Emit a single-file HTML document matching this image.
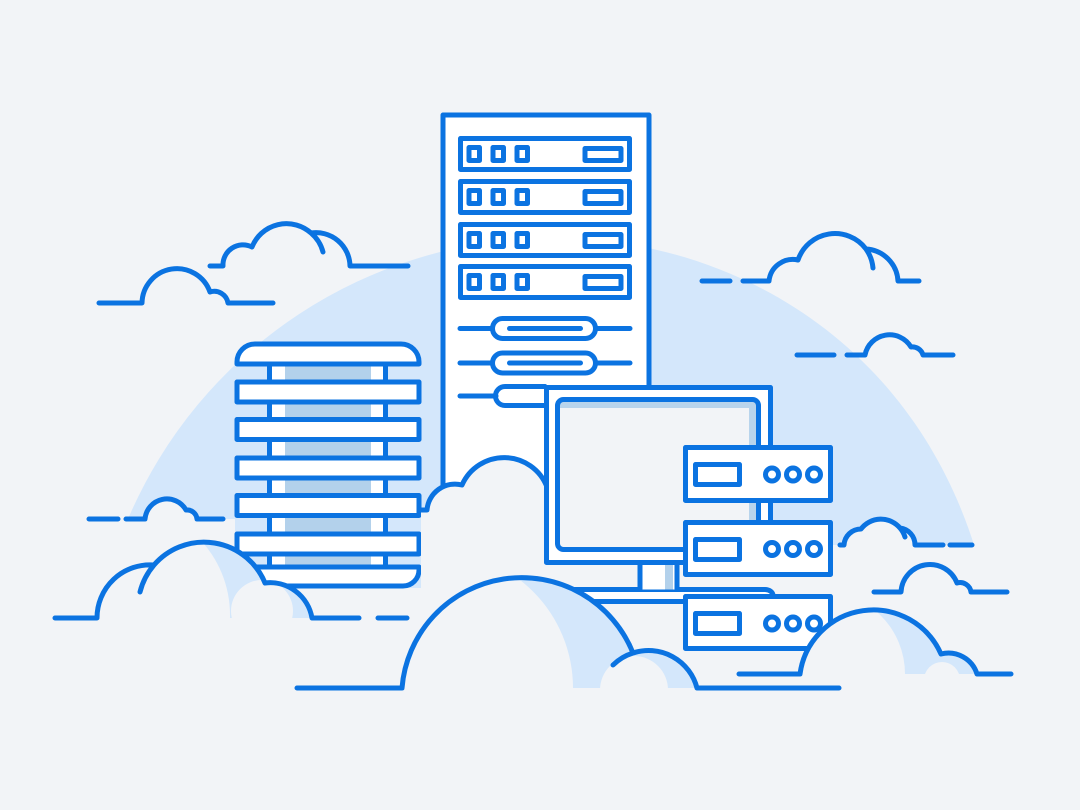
<!DOCTYPE html>
<html><head><meta charset="utf-8"><style>
html,body{margin:0;padding:0;background:#f2f4f7;}
svg{display:block;}
.s{fill:none;stroke:#0b73e1;stroke-width:5;stroke-linecap:round;stroke-linejoin:round;}
.w{fill:#fff;stroke:#0b73e1;stroke-width:5;stroke-linecap:round;stroke-linejoin:round;}
.bg{fill:#f2f4f7;}
.lb{fill:#d4e7fb;}
</style></head><body>
<svg width="1080" height="810" viewBox="0 0 1080 810" xmlns="http://www.w3.org/2000/svg">
<defs>
<clipPath id="cF"><path d="M97,618 A53,53 0 0 1 154,565 A66,66 0 0 1 265,583 A42.5,42.5 0 0 1 312,618 Z"/></clipPath>
<clipPath id="cG"><path d="M402,688 A120,120 0 0 1 633,653 A50,50 0 0 1 697,688 Z"/></clipPath>
<clipPath id="cH"><path d="M800,674 A74,74 0 0 1 941,654 A30,30 0 0 1 977,674 Z"/></clipPath>
</defs>
<rect width="1080" height="810" class="bg"/>
<!-- dome -->
<path d="M128,519 A462,462 0 0 1 553,238 C730,238 910,340 975,548 L975,640 L128,640 Z" class="lb"/>
<rect x="0" y="519" width="235" height="291" class="bg"/>
<rect x="833" y="545" width="247" height="265" class="bg"/>
<rect x="421" y="562" width="412" height="248" class="bg"/>
<rect x="235" y="588" width="186" height="222" class="bg"/>

<!-- tall rack -->
<rect x="443" y="115" width="206" height="440" class="w"/>
<g>
<rect x="460.5" y="138.5" width="169" height="31" class="w"/>
<rect x="469" y="147.5" width="10.5" height="13" class="s"/>
<rect x="493" y="147.5" width="10.5" height="13" class="s"/>
<rect x="517" y="147.5" width="10.5" height="13" class="s"/>
<rect x="585" y="148.5" width="36" height="12" class="s"/>

<rect x="460.5" y="181.5" width="169" height="31" class="w"/>
<rect x="469" y="190.5" width="10.5" height="13" class="s"/>
<rect x="493" y="190.5" width="10.5" height="13" class="s"/>
<rect x="517" y="190.5" width="10.5" height="13" class="s"/>
<rect x="585" y="191.5" width="36" height="12" class="s"/>

<rect x="460.5" y="224.5" width="169" height="31" class="w"/>
<rect x="469" y="233.5" width="10.5" height="13" class="s"/>
<rect x="493" y="233.5" width="10.5" height="13" class="s"/>
<rect x="517" y="233.5" width="10.5" height="13" class="s"/>
<rect x="585" y="234.5" width="36" height="12" class="s"/>

<rect x="460.5" y="266.5" width="169" height="31" class="w"/>
<rect x="469" y="275.5" width="10.5" height="13" class="s"/>
<rect x="493" y="275.5" width="10.5" height="13" class="s"/>
<rect x="517" y="275.5" width="10.5" height="13" class="s"/>
<rect x="585" y="276.5" width="36" height="12" class="s"/>
</g>
<line x1="460" y1="328.5" x2="630" y2="328.5" class="s"/>
<rect x="492.5" y="318.5" width="103" height="20" rx="10" class="w"/>
<line x1="509.5" y1="328.5" x2="580.5" y2="328.5" class="s"/>
<line x1="460" y1="363" x2="630" y2="363" class="s"/>
<rect x="492.5" y="353" width="103" height="20" rx="10" class="w"/>
<line x1="509.5" y1="363" x2="580.5" y2="363" class="s"/>
<line x1="460" y1="396" x2="496" y2="396" class="s"/>
<path d="M545,386.5 H505 A9.5,9.5 0 0 0 505,405.5 H545" class="s"/>

<!-- left tower -->
<rect x="269.5" y="364" width="116" height="203" fill="#fff"/>
<rect x="285" y="364" width="86" height="203" fill="#b3d1eb"/>
<line x1="269.5" y1="364" x2="269.5" y2="567" class="s"/>
<line x1="385.5" y1="364" x2="385.5" y2="567" class="s"/>
<path d="M237,364 V362 A18,18 0 0 1 255,344 H401 A18,18 0 0 1 419,362 V364 Z" class="w"/>
<rect x="237" y="382" width="182" height="20" class="w"/>
<rect x="237" y="419.5" width="182" height="20" class="w"/>
<rect x="237" y="458" width="182" height="20" class="w"/>
<rect x="237" y="495.5" width="182" height="20" class="w"/>
<rect x="237" y="534" width="182" height="20" class="w"/>
<path d="M237,567 H419 V570 A16,16 0 0 1 403,586 H253 A16,16 0 0 1 237,570 Z" class="w"/>

<!-- cloud K -->
<path d="M421,510 H427 A28,28 0 0 1 462,485 A46,46 0 0 1 548,487 L548,810 L421,810 Z" class="bg"/>
<path d="M421,510 H427 A28,28 0 0 1 462,485 A46,46 0 0 1 547,487" class="s"/>

<!-- monitor -->
<rect x="555" y="589.5" width="218" height="12" rx="8" class="w"/>
<rect x="640" y="562" width="37" height="27.5" fill="#fff"/>
<rect x="665" y="562" width="8" height="27.5" fill="#b3d1eb"/>
<line x1="640" y1="562" x2="640" y2="589" class="s"/>
<line x1="677" y1="562" x2="677" y2="589" class="s"/>
<rect x="546.5" y="387.5" width="224" height="175" class="w"/>
<rect x="557.5" y="399.5" width="201" height="150" rx="6" class="bg"/>
<rect x="560" y="402" width="196" height="6" fill="#b8d4ec"/>
<rect x="749" y="402" width="7" height="145" fill="#b8d4ec"/>
<rect x="557.5" y="399.5" width="201" height="150" rx="6" class="s"/>

<!-- small servers -->
<rect x="685.5" y="447.5" width="145" height="53" class="w"/>
<rect x="695.5" y="464.5" width="44" height="20" class="s"/>
<circle cx="772" cy="474.5" r="6.5" class="s"/><circle cx="793" cy="474.5" r="6.5" class="s"/><circle cx="814" cy="474.5" r="6.5" class="s"/>
<rect x="685.5" y="522.5" width="145" height="52" class="w"/>
<rect x="695.5" y="539.5" width="44" height="20" class="s"/>
<circle cx="772" cy="549" r="6.5" class="s"/><circle cx="793" cy="549" r="6.5" class="s"/><circle cx="814" cy="549" r="6.5" class="s"/>
<rect x="685.5" y="596.5" width="145" height="52" class="w"/>
<rect x="695.5" y="613.5" width="44" height="20" class="s"/>
<circle cx="772" cy="623.5" r="6.5" class="s"/><circle cx="793" cy="623.5" r="6.5" class="s"/><circle cx="814" cy="623.5" r="6.5" class="s"/>

<!-- cloud F -->
<path d="M97,618 A53,53 0 0 1 154,565 A66,66 0 0 1 265,583 A42.5,42.5 0 0 1 312,618 Z" class="lb"/>
<g clip-path="url(#cF)">
<circle cx="120" cy="615" r="110" class="bg"/>
<circle cx="262" cy="611" r="31" class="bg"/>
</g>
<path d="M55,618 H97 A53,53 0 0 1 154,565 A66,66 0 0 1 265,583 A42.5,42.5 0 0 1 312,618 H359 M378,618 H407 M154,565 A66,66 0 0 0 140,592" class="s"/>

<!-- cloud G -->
<path d="M402,688 A120,120 0 0 1 633,653 A50,50 0 0 1 697,688 Z" class="lb"/>
<g clip-path="url(#cG)">
<circle cx="436.5" cy="688" r="136.5" class="bg"/>
<circle cx="634" cy="690" r="34" class="bg"/>
</g>
<path d="M297,688 H402 A120,120 0 0 1 633,653 A50,50 0 0 1 697,688 H839 M633,653 A50,50 0 0 0 613,665" class="s"/>

<!-- cloud H -->
<path d="M800,674 A74,74 0 0 1 941,654 A30,30 0 0 1 977,674 Z" class="lb"/>
<g clip-path="url(#cH)">
<circle cx="822.4" cy="674" r="82.6" class="bg"/>
<circle cx="942" cy="680" r="18" class="bg"/>
</g>
<path d="M739,674 H800 A74,74 0 0 1 941,654 A30,30 0 0 1 977,674 H1011" class="s"/>

<!-- small clouds -->
<path d="M223,266 A20,20 0 0 1 252,247 A37,37 0 0 1 311,233 A34,34 0 0 1 350,266 Z" class="bg"/>
<path d="M210,266 H223 A20,20 0 0 1 252,247 A37,37 0 0 1 311,233 A34,34 0 0 1 350,266 H408 M311,233 A37,37 0 0 1 323,252" class="s"/>

<path d="M142,303 A35,35 0 0 1 210,292 A14,14 0 0 1 228,303 Z" class="bg"/>
<path d="M99,303 H142 A35,35 0 0 1 210,292 A14,14 0 0 1 228,303 H273" class="s"/>

<path d="M769,281 A24,24 0 0 1 798,260 A39,39 0 0 1 866,249 A34,34 0 0 1 898,281 Z" class="bg"/>
<path d="M702,281 H730 M743,281 H769 A24,24 0 0 1 798,260 A39,39 0 0 1 866,249 A34,34 0 0 1 898,281 H919 M866,249 A39,39 0 0 1 873,268" class="s"/>

<path d="M865,355 A25,25 0 0 1 911,347 A11,11 0 0 1 923,355 Z" class="bg"/>
<path d="M797,355 H834 M847,355 H865 A25,25 0 0 1 911,347 A11,11 0 0 1 923,355 H953" class="s"/>

<path d="M145,519 A22,22 0 0 1 186,510 A10,10 0 0 1 197,519 Z" class="bg"/>
<path d="M89,519 H118 M126,519 H145 A22,22 0 0 1 186,510 A10,10 0 0 1 197,519 H223" class="s"/>

<path d="M844,545 A17,17 0 0 1 861,529 A25,25 0 0 1 900,528 A17,17 0 0 1 915,545 Z" class="bg"/>
<path d="M840,545 H844 A17,17 0 0 1 861,529 A25,25 0 0 1 900,528 A17,17 0 0 1 915,545 H943 M950,545 H972 M900,528 A25,25 0 0 1 905,537" class="s"/>

<path d="M901,592 A29,29 0 0 1 957,583 A11,11 0 0 1 971,592 Z" class="bg"/>
<path d="M874,592 H901 A29,29 0 0 1 957,583 A11,11 0 0 1 971,592 H1007" class="s"/>
</svg>
</body></html>
